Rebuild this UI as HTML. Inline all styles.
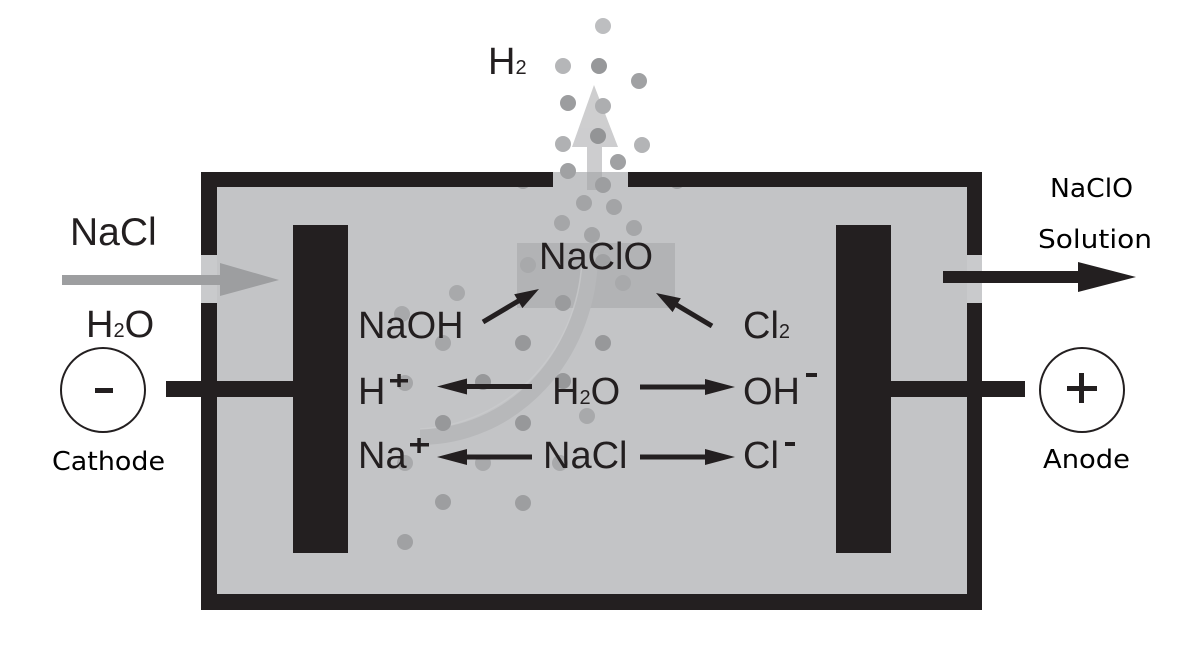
<!DOCTYPE html>
<html><head><meta charset="utf-8"><style>
html,body{margin:0;padding:0;background:#fff;}
svg{display:block;}
</style></head><body>
<svg width="1180" height="661" viewBox="0 0 1180 661" xmlns="http://www.w3.org/2000/svg">
<rect x="0" y="0" width="1180" height="661" fill="#fff"/>
<!-- fill -->
<rect x="201" y="172" width="781" height="438" fill="#c3c4c6"/>
<rect x="201" y="255" width="16" height="48" fill="#c9cacc"/>
<rect x="967" y="255" width="15" height="48" fill="#c9cacc"/>
<!-- partial dots under top wall -->
<circle cx="523" cy="181" r="8" fill="#a0a1a3"/>
<circle cx="677" cy="181" r="8" fill="#a0a1a3"/>
<!-- walls -->
<g fill="#231f20">
<rect x="201" y="172" width="352" height="15"/>
<rect x="628" y="172" width="354" height="15"/>
<rect x="201" y="172" width="16" height="83"/>
<rect x="201" y="303" width="16" height="307"/>
<rect x="967" y="172" width="15" height="83"/>
<rect x="967" y="303" width="15" height="307"/>
<rect x="201" y="594" width="781" height="16"/>
<!-- electrodes -->
<rect x="293" y="225" width="55" height="328"/>
<rect x="836" y="225" width="55" height="328"/>
<!-- wires -->
<rect x="166" y="381" width="127" height="16"/>
<rect x="891" y="381" width="134" height="16"/>
</g>
<!-- NaClO box -->
<rect x="517" y="243" width="158" height="65" fill="#b2b3b5"/>
<!-- curved band -->
<path d="M 420 437 A 170 184 0 0 0 590 253" fill="none" stroke="#b7b8ba" stroke-width="16"/>
<path d="M 420 429 A 170 176 0 0 0 582 253" fill="none" stroke="#cbcccd" stroke-width="1.5" opacity="0.7"/>
<!-- H2 arrow -->
<g fill="#a5a6a8" opacity="0.55">
<rect x="587" y="145" width="15" height="45"/>
<polygon points="594,85 572,147 618,147"/>
</g>
<!-- dots -->
<g>
<circle cx="603" cy="26" r="8" fill="#bdbec0"/>
<circle cx="563" cy="66" r="8" fill="#b5b6b8"/>
<circle cx="599" cy="66" r="8" fill="#97989a"/>
<circle cx="639" cy="81" r="8" fill="#a0a1a3"/>
<circle cx="568" cy="103" r="8" fill="#9c9d9f"/>
<circle cx="603" cy="106" r="8" fill="#adaeb0"/>
<circle cx="598" cy="136" r="8" fill="#939496"/>
<circle cx="563" cy="144" r="8" fill="#b0b1b3"/>
<circle cx="642" cy="145" r="8" fill="#b3b4b6"/>
<circle cx="618" cy="162" r="8" fill="#a0a1a3"/>
<circle cx="568" cy="171" r="8" fill="#a0a1a3"/>
<circle cx="603" cy="185" r="8" fill="#9d9ea0"/>
<circle cx="584" cy="203" r="8" fill="#a3a4a6"/>
<circle cx="614" cy="207" r="8" fill="#a3a4a6"/>
<circle cx="562" cy="223" r="8" fill="#a5a6a8"/>
<circle cx="634" cy="228" r="8" fill="#a5a6a8"/>
<circle cx="592" cy="235" r="8" fill="#a3a4a6"/>
<circle cx="528" cy="265" r="8" fill="#a8a9ab"/>
<circle cx="603" cy="262" r="8" fill="#a0a1a3"/>
<circle cx="623" cy="283" r="8" fill="#a8a9ab"/>
<circle cx="563" cy="303" r="8" fill="#9a9b9d"/>
<circle cx="457" cy="293" r="8" fill="#a8a9ab"/>
<circle cx="402" cy="314" r="8" fill="#a8a9ab"/>
<circle cx="443" cy="343" r="8" fill="#a5a6a8"/>
<circle cx="523" cy="343" r="8" fill="#97989a"/>
<circle cx="603" cy="343" r="8" fill="#97989a"/>
<circle cx="405" cy="383" r="8" fill="#a5a6a8"/>
<circle cx="483" cy="382" r="8" fill="#97989a"/>
<circle cx="563" cy="381" r="8" fill="#97989a"/>
<circle cx="443" cy="423" r="8" fill="#97989a"/>
<circle cx="523" cy="423" r="8" fill="#97989a"/>
<circle cx="587" cy="416" r="8" fill="#a8a9ab"/>
<circle cx="405" cy="463" r="8" fill="#a8a9ab"/>
<circle cx="483" cy="463" r="8" fill="#a8a9ab"/>
<circle cx="560" cy="463" r="8" fill="#a8a9ab"/>
<circle cx="443" cy="502" r="8" fill="#9d9ea0"/>
<circle cx="523" cy="503" r="8" fill="#9d9ea0"/>
<circle cx="405" cy="542" r="8" fill="#a0a1a3"/>
</g>
<!-- input arrow -->
<g fill="#9d9ea0">
<rect x="62" y="275" width="160" height="10"/>
<polygon points="220,263 279,280 220,296"/>
</g>
<!-- output arrow -->
<g fill="#231f20">
<rect x="943" y="271" width="137" height="12"/>
<polygon points="1078,262 1136,277 1078,292"/>
</g>
<!-- inner arrows -->
<g fill="#231f20" stroke="none">
<rect x="465" y="384" width="67" height="5"/>
<polygon points="437,386.5 467,378.5 467,394.5"/>
<rect x="640" y="384.5" width="67" height="5"/>
<polygon points="735,387 705,379 705,395"/>
<rect x="465" y="454.5" width="67" height="5"/>
<polygon points="437,457 467,449 467,465"/>
<rect x="640" y="454.5" width="67" height="5"/>
<polygon points="735,457 705,449 705,465"/>
<polygon points="539,289 522.4,308.1 514.2,294.3"/>
<polygon points="656,293 680.8,298.3 672.6,312.1"/>
</g>
<g stroke="#231f20" stroke-width="5" fill="none">
<line x1="483" y1="322" x2="520" y2="300"/>
<line x1="712" y1="326" x2="675" y2="304"/>
</g>
<!-- circles -->
<circle cx="103" cy="390" r="42" fill="#fff" stroke="#231f20" stroke-width="2"/>
<rect x="95" y="388" width="18" height="5" fill="#231f20"/>
<circle cx="1082" cy="390" r="42" fill="#fff" stroke="#231f20" stroke-width="2"/>
<rect x="1067" y="386" width="30" height="5" fill="#231f20"/>
<rect x="1079" y="373" width="5" height="30" fill="#231f20"/>
<!-- text -->
<g font-family="'Liberation Sans', Arial, sans-serif" fill="#231f20" font-size="38">
<text x="70" y="245" font-size="39">NaCl</text>
<text x="86" y="337">H<tspan font-size="20">2</tspan>O</text>
<text x="488" y="74">H<tspan font-size="20">2</tspan></text>
<text x="539" y="269">NaClO</text>
<text x="358" y="338">NaOH</text>
<text x="743" y="338">Cl<tspan font-size="20">2</tspan></text>
<text x="358" y="404">H</text>
<text x="552" y="404">H<tspan font-size="20">2</tspan>O</text>
<text x="743" y="404">OH</text>
<text x="358" y="468">Na</text>
<text x="543" y="468">NaCl</text>
<text x="743" y="468">Cl</text>
</g>
<g fill="#231f20">
<rect x="390" y="379" width="18" height="3.5"/>
<rect x="397.3" y="374" width="3.5" height="13"/>
<rect x="410" y="443" width="19" height="3.5"/>
<rect x="417.3" y="438" width="3.5" height="15"/>
<rect x="806" y="373" width="11" height="4"/>
<rect x="785" y="442" width="10" height="4"/>
</g>
<g font-family="'DejaVu Sans', 'Liberation Sans', sans-serif" fill="#000" font-size="26">
<text x="52" y="470" textLength="113" lengthAdjust="spacingAndGlyphs">Cathode</text>
<text x="1043" y="468" textLength="87" lengthAdjust="spacingAndGlyphs">Anode</text>
<text x="1050" y="197" textLength="83" lengthAdjust="spacingAndGlyphs">NaClO</text>
<text x="1038" y="248" textLength="114" lengthAdjust="spacingAndGlyphs">Solution</text>
</g>
</svg>
</body></html>
